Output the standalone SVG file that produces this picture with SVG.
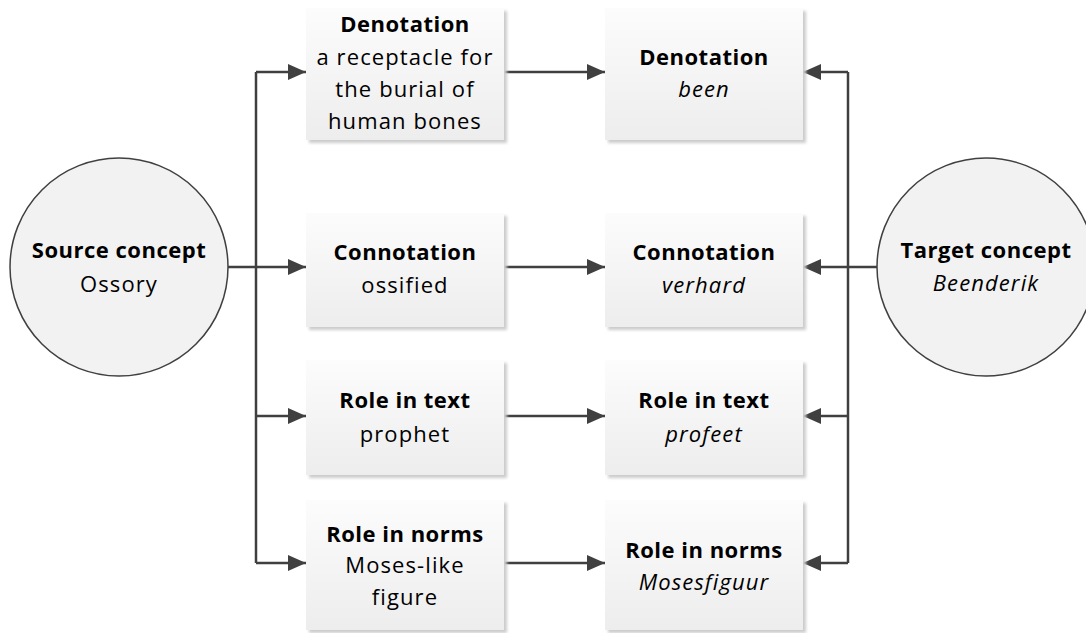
<svg xmlns="http://www.w3.org/2000/svg" width="1086" height="633" viewBox="0 0 1086 633">
  <style>
    .box { fill: url(#boxFill); stroke: none; }
    .shadow { fill: #cccccc; filter: url(#soft); }
    .concept { fill: #f2f2f2; stroke: #404040; stroke-width: 1.5; }
    .wire { fill: none; stroke: #404040; stroke-width: 2.5; }
    .arrow { fill: none; stroke: #404040; stroke-width: 2.5; marker-end: url(#head); }
    text { font-family: "Open Sans", "Noto Sans", "Liberation Sans", sans-serif; font-size: 22px; fill: #000; text-anchor: middle; }
    .b { font-weight: bold; letter-spacing: 0.5px; }
    .r { letter-spacing: 1.1px; }
    .i { font-style: italic; letter-spacing: 1.1px; }
  </style>
  <defs>
    <linearGradient id="boxFill" x1="0" y1="0" x2="0" y2="1">
      <stop offset="0" stop-color="#fcfcfc"/>
      <stop offset="1" stop-color="#ededed"/>
    </linearGradient>
    <filter id="soft" x="-10%" y="-10%" width="120%" height="120%">
      <feGaussianBlur stdDeviation="1.5"/>
    </filter>
    <marker id="head" viewBox="0 0 18 16" refX="18" refY="8" markerWidth="18" markerHeight="16" markerUnits="userSpaceOnUse" orient="auto">
      <path d="M0,0 L18,8 L0,16 Z" fill="#404040"/>
    </marker>
  </defs>

  <!-- connectors -->
  <g id="connectors">
    <!-- source side fan-out -->
    <path class="wire" d="M256,72 V563"/>
    <path class="arrow" d="M228,267 H306"/>
    <path class="arrow" d="M256,72 H306"/>
    <path class="arrow" d="M256,416 H306"/>
    <path class="arrow" d="M256,563 H306"/>
    <!-- across -->
    <path class="arrow" d="M504,72 H605"/>
    <path class="arrow" d="M504,267 H605"/>
    <path class="arrow" d="M504,416 H605"/>
    <path class="arrow" d="M504,563 H605"/>
    <!-- target side fan-in -->
    <path class="wire" d="M848,72 V563"/>
    <path class="arrow" d="M877,267 H803"/>
    <path class="arrow" d="M848,72 H803"/>
    <path class="arrow" d="M848,416 H803"/>
    <path class="arrow" d="M848,563 H803"/>
  </g>

  <g id="source-concept">
    <circle class="concept" cx="119" cy="267" r="109"/>
    <text x="119" y="258" class="b">Source concept</text>
    <text x="119" y="292" class="r">Ossory</text>
  </g>

  <g id="target-concept">
    <circle class="concept" cx="986" cy="267" r="109"/>
    <text x="986" y="258" class="b">Target concept</text>
    <text x="986" y="291" class="i">Beenderik</text>
  </g>

  <g id="src-denotation">
    <rect class="shadow" x="309" y="11" width="198" height="132"/>
    <rect class="box" x="306" y="8" width="198" height="132"/>
    <text x="405" y="32" class="b">Denotation</text>
    <text x="405" y="65" class="r">a receptacle for</text>
    <text x="405" y="97" class="r">the burial of</text>
    <text x="405" y="129" class="r">human bones</text>
  </g>

  <g id="tgt-denotation">
    <rect class="shadow" x="608" y="11" width="198" height="132"/>
    <rect class="box" x="605" y="8" width="198" height="132"/>
    <text x="704" y="65" class="b">Denotation</text>
    <text x="704" y="97" class="i">been</text>
  </g>

  <g id="src-connotation">
    <rect class="shadow" x="309" y="216" width="198" height="114"/>
    <rect class="box" x="306" y="213" width="198" height="114"/>
    <text x="405" y="260" class="b">Connotation</text>
    <text x="405" y="293" class="r">ossified</text>
  </g>

  <g id="tgt-connotation">
    <rect class="shadow" x="608" y="216" width="198" height="114"/>
    <rect class="box" x="605" y="213" width="198" height="114"/>
    <text x="704" y="260" class="b">Connotation</text>
    <text x="704" y="293" class="i">verhard</text>
  </g>

  <g id="src-role-text">
    <rect class="shadow" x="309" y="363" width="198" height="115"/>
    <rect class="box" x="306" y="360" width="198" height="115"/>
    <text x="405" y="408" class="b">Role in text</text>
    <text x="405" y="442" class="r">prophet</text>
  </g>

  <g id="tgt-role-text">
    <rect class="shadow" x="608" y="363" width="198" height="115"/>
    <rect class="box" x="605" y="360" width="198" height="115"/>
    <text x="704" y="408" class="b">Role in text</text>
    <text x="704" y="442" class="i">profeet</text>
  </g>

  <g id="src-role-norms">
    <rect class="shadow" x="309" y="503" width="198" height="130"/>
    <rect class="box" x="306" y="500" width="198" height="130"/>
    <text x="405" y="542" class="b">Role in norms</text>
    <text x="405" y="573" class="r">Moses-like</text>
    <text x="405" y="605" class="r">figure</text>
  </g>

  <g id="tgt-role-norms">
    <rect class="shadow" x="608" y="503" width="198" height="130"/>
    <rect class="box" x="605" y="500" width="198" height="130"/>
    <text x="704" y="558" class="b">Role in norms</text>
    <text x="704" y="590" class="i">Mosesfiguur</text>
  </g>
</svg>
